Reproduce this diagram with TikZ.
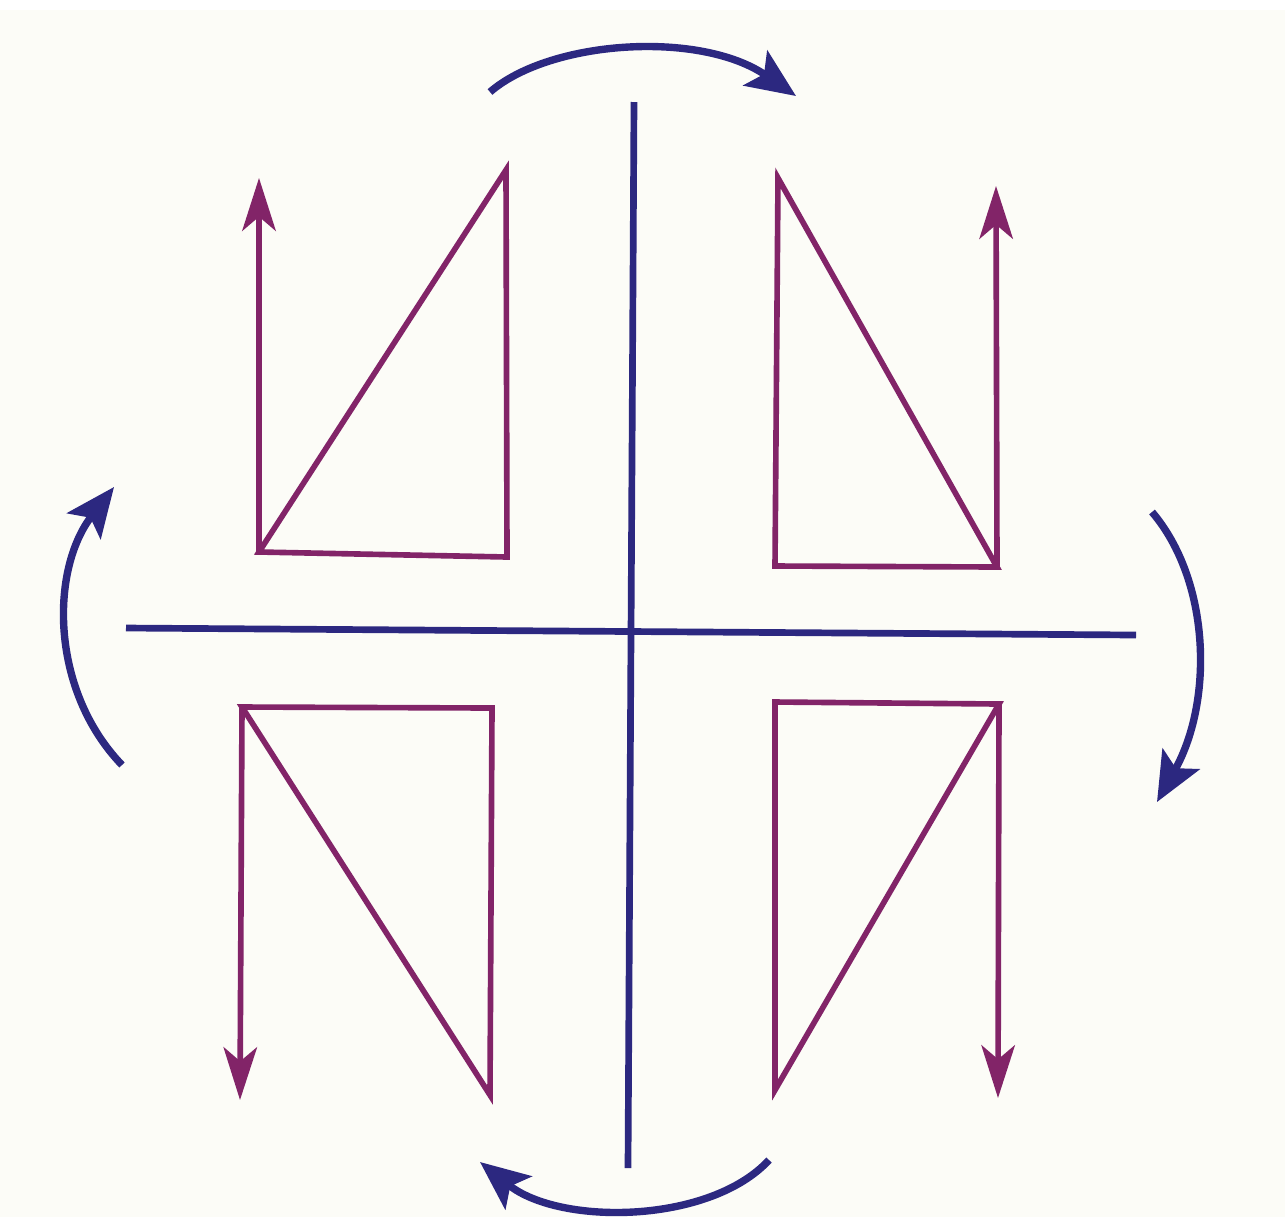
\documentclass[tikz,border=0pt]{standalone}
\usepackage{tikz}
\usetikzlibrary{
    arrows.meta,
    calc
}
\definecolor{axisblue}{RGB}{44,40,128}
\definecolor{plum}{RGB}{130,36,104}
\definecolor{paper}{RGB}{252,252,247}

\begin{document}
\begin{tikzpicture}[
    x=0.01cm, y=-0.01cm,
    axis/.style={axisblue, line width=1.9pt},
    turn/.style={axisblue, line width=2.1pt,
        -{Stealth[length=14pt, width=12pt, inset=3pt]}},
    edge/.style={plum, line width=1.6pt, line join=miter},
    vec/.style={plum, line width=1.6pt,
        -{Stealth[length=15pt, width=9.5pt, inset=4pt]}}
]

% ---------- Page ----------
\useasboundingbox (0,0) rectangle (1285,1217);
\fill[paper] (0,10) rectangle (1285,1217);

% ---------- Axes ----------
\coordinate (top)    at (634,102);
\coordinate (bottom) at (628,1168);
\coordinate (left)   at (126,628);
\coordinate (right)  at (1136,635);

\draw[axis] (top) -- (bottom);
\draw[axis] (left) -- (right);

% ---------- Turning arrows ----------
\coordinate (n1) at (490,92);   \coordinate (n2) at (796,96);
\coordinate (e1) at (1152,512); \coordinate (e2) at (1157,802);
\coordinate (s1) at (769,1160); \coordinate (s2) at (480,1162);
\coordinate (w1) at (122,765);  \coordinate (w2) at (114,487);

\draw[turn] (n1) .. controls (550,40) and (700,30) .. (n2);
\draw[turn] (e1) .. controls (1210,580) and (1214,700) .. (e2);
\draw[turn] (s1) .. controls (710,1224) and (560,1226) .. (s2);
\draw[turn] (w1) .. controls (50,690) and (50,570) .. (w2);

% ---------- Upper left ----------
\coordinate (ulA) at (259,552);
\coordinate (ulB) at (507,557);
\coordinate (ulC) at (506,170);
\coordinate (ulT) at (259,178);

\draw[edge] (ulA) -- (ulB) -- (ulC) -- cycle;
\draw[vec] (ulA) -- (ulT);

% ---------- Upper right ----------
\coordinate (urA) at (778,178);
\coordinate (urB) at (775,566);
\coordinate (urC) at (997,567);
\coordinate (urT) at (996,186);

\draw[edge] (urA) -- (urB) -- (urC) -- cycle;
\draw[vec] (urC) -- (urT);

% ---------- Lower left ----------
\coordinate (llA) at (242,707);
\coordinate (llB) at (492,708);
\coordinate (llC) at (490,1095);
\coordinate (llT) at (240,1100);

\draw[edge] (llA) -- (llB) -- (llC) -- cycle;
\draw[vec] (llA) -- (llT);

% ---------- Lower right ----------
\coordinate (lrA) at (999,704);
\coordinate (lrB) at (775,702);
\coordinate (lrC) at (775,1090);
\coordinate (lrT) at (998,1098);

\draw[edge] (lrA) -- (lrB) -- (lrC) -- cycle;
\draw[vec] (lrA) -- (lrT);

\end{tikzpicture}
\end{document}
